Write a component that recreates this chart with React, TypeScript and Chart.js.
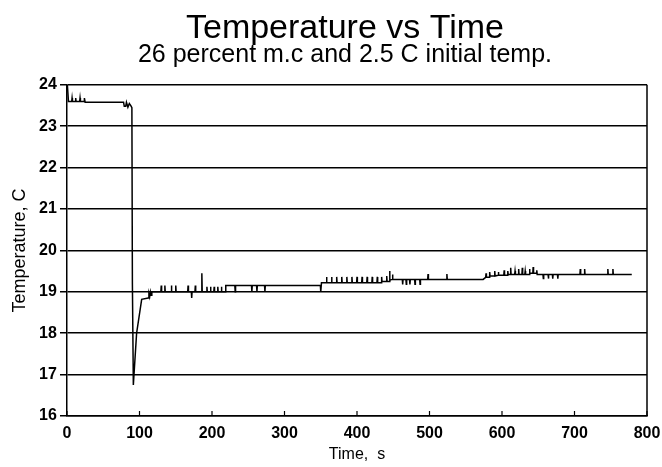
import React, { useEffect, useRef } from "react";
import { Chart, registerables } from "chart.js";

Chart.register(...registerables);

const titleText = "Temperature vs Time";
const subtitleText = "26 percent m.c and 2.5 C initial temp.";
const xTitle = "Time,  s";
const yTitle = "Temperature, C";

const xTicks = [0, 100, 200, 300, 400, 500, 600, 700, 800];
const yTicks = [16, 17, 18, 19, 20, 21, 22, 23, 24];

// time (s)
const times = [
  0.5, 2, 6.5, 7, 7.5, 11.5, 12, 12.5, 17.5, 18, 18.5, 23.5, 24, 25, 78, 79, 81, 82, 84, 86, 88,
  89.5, 90.2, 91.5, 96, 103, 112, 113, 114, 115, 116, 117,
  129.5, 130, 130.5, 134.5, 135, 135.5, 143.5, 144, 144.5, 149.5, 150, 150.5, 166.5, 167, 167.5,
  171.5, 172, 172.5, 176.5, 177, 177.5, 185.5, 186, 186.5,
  192.5, 193, 193.5, 197.5, 198, 198.5, 202.5, 203, 203.5, 207.5, 208, 208.5, 212.5, 213, 213.5,
  218, 219, 231.5, 232, 232.5, 254.5, 255, 255.5, 261.5, 262, 262.5, 272.5, 273, 273.5,
  349.5, 350, 351,
  357.5, 358, 358.5, 364.5, 365, 365.5, 371.5, 372, 372.5, 378.5, 379, 379.5, 385.5, 386, 386.5,
  392.5, 393, 393.5, 399.5, 400, 400.5, 406.5, 407, 407.5, 413.5, 414, 414.5, 420.5, 421, 421.5,
  427.5, 428, 428.5, 433.5, 434, 434.5,
  440.5, 441, 441.5, 444.5, 445, 445.5, 448.5, 449, 449.5,
  462.5, 463, 463.5, 467.5, 468, 468.5, 472.5, 473, 473.5, 479.5, 480, 480.5, 486.5, 487, 487.5,
  497.5, 498, 498.5, 523.5, 524, 524.5,
  574, 577.5, 578, 578.5, 582.5, 583, 583.5, 589.5, 590, 590.5, 594.5, 595, 595.5,
  602.5, 603, 603.5, 607.5, 608, 608.5, 611.5, 612, 612.5, 617.5, 618, 618.5, 622.5, 623, 623.5,
  627.5, 628, 628.5, 631.5, 632, 632.5, 637.5, 638, 638.5, 642.5, 643, 643.5, 647.5, 648, 648.5,
  656.5, 657, 657.5, 663.5, 664, 664.5, 669.5, 670, 670.5, 676.5, 677, 677.5,
  707.5, 708, 708.5, 713.5, 714, 714.5, 745.5, 746, 746.5, 752.5, 753, 753.5, 779,
];

// temperature (C)
const temps = [
  24.0, 23.6, 23.6, 23.68, 23.6, 23.6, 23.68, 23.6, 23.6, 23.68, 23.6, 23.6, 23.68, 23.58, 23.58, 23.48, 23.48, 23.58, 23.46, 23.55, 23.5,
  23.45, 19.2, 16.75, 18.0, 18.82, 18.85, 18.95, 18.88, 19.0, 18.92, 19.0,
  19.0, 19.15, 19.0, 19.0, 19.15, 19.0, 19.0, 19.15, 19.0, 19.0, 19.15, 19.0, 19.0, 19.15, 19.0,
  19.0, 18.85, 19.0, 19.0, 19.15, 19.0, 19.0, 19.45, 19.0,
  19.0, 19.12, 19.0, 19.0, 19.12, 19.0, 19.0, 19.12, 19.0, 19.0, 19.12, 19.0, 19.0, 19.12, 19.0,
  19.0, 19.15, 19.15, 19.0, 19.15, 19.15, 19.0, 19.15, 19.15, 19.0, 19.15, 19.15, 19.0, 19.15,
  19.15, 19.0, 19.22,
  19.22, 19.36, 19.22, 19.22, 19.36, 19.22, 19.22, 19.36, 19.22, 19.22, 19.36, 19.22, 19.22, 19.36, 19.22,
  19.22, 19.36, 19.22, 19.22, 19.36, 19.22, 19.22, 19.36, 19.22, 19.22, 19.36, 19.22, 19.22, 19.36, 19.22,
  19.22, 19.36, 19.22, 19.22, 19.36, 19.25,
  19.25, 19.38, 19.25, 19.25, 19.5, 19.28, 19.3, 19.42, 19.3,
  19.3, 19.18, 19.3, 19.3, 19.18, 19.3, 19.3, 19.18, 19.3, 19.3, 19.18, 19.3, 19.3, 19.18, 19.3,
  19.3, 19.43, 19.3, 19.3, 19.43, 19.3,
  19.3, 19.35, 19.45, 19.35, 19.35, 19.48, 19.38, 19.38, 19.5, 19.38, 19.4, 19.48, 19.4,
  19.4, 19.52, 19.4, 19.4, 19.5, 19.42, 19.42, 19.58, 19.42, 19.42, 19.5, 19.42, 19.42, 19.55, 19.42,
  19.42, 19.58, 19.42, 19.42, 19.5, 19.42, 19.42, 19.55, 19.45, 19.45, 19.6, 19.45, 19.45, 19.52, 19.42,
  19.42, 19.32, 19.42, 19.42, 19.32, 19.42, 19.42, 19.32, 19.42, 19.42, 19.32, 19.42,
  19.42, 19.55, 19.42, 19.42, 19.55, 19.42, 19.42, 19.55, 19.42, 19.42, 19.55, 19.42, 19.42,
];

const FONT = "'Liberation Sans', Arial, sans-serif";

const framePlugin = {
  id: "frame",
  afterDraw(chart: any) {
    const { ctx, chartArea, scales } = chart;
    ctx.save();
    ctx.strokeStyle = "#000";
    ctx.lineWidth = 1.5;
    ctx.beginPath();
    ctx.moveTo(chartArea.right, chartArea.top);
    ctx.lineTo(chartArea.right, chartArea.bottom);
    ctx.stroke();
    ctx.lineWidth = 1.2;
    for (const v of xTicks) {
      const px = scales.x.getPixelForValue(v);
      ctx.beginPath();
      ctx.moveTo(px, chartArea.bottom);
      ctx.lineTo(px, chartArea.bottom - 5);
      ctx.stroke();
    }
    ctx.restore();
  },
};

export default function App() {
  const ref = useRef<HTMLCanvasElement | null>(null);
  useEffect(() => {
    if (!ref.current) return;
    Chart.defaults.color = "#000";
    const chart = new Chart(ref.current, {
      type: "line",
      data: {
        datasets: [
          {
            data: times.map((t, i) => ({ x: t, y: temps[i] })),
            borderColor: "#000",
            borderWidth: 1.5,
            pointRadius: 0,
            tension: 0,
            fill: false,
          },
        ],
      },
      options: {
        responsive: false,
        animation: false,
        layout: { padding: { left: 43, right: 15, top: 0, bottom: 0 } },
        plugins: {
          legend: { display: false },
          tooltip: { enabled: false },
          title: {
            display: true,
            text: titleText,
            color: "#000",
            font: { family: FONT, size: 34, weight: "normal", lineHeight: 1.15 },
            padding: { top: 9, bottom: 0 },
          },
          subtitle: {
            display: true,
            text: subtitleText,
            color: "#000",
            font: { family: FONT, size: 25, weight: "normal", lineHeight: 0.55 },
            padding: { top: 0, bottom: 23 },
          },
        },
        scales: {
          x: {
            type: "linear",
            min: 0,
            max: 800,
            afterFit: (s: any) => {
              s.height = 51;
              s.paddingLeft = 0;
              s.paddingRight = 0;
            },
            afterBuildTicks: (s: any) => {
              s.ticks = xTicks.map((v) => ({ value: v }));
            },
            ticks: {
              color: "#000",
              padding: 8,
              maxRotation: 0,
              font: { family: FONT, size: 16, weight: "bold" },
            },
            grid: { display: false, drawTicks: false },
            border: { display: true, color: "#000", width: 1.5 },
            title: {
              display: true,
              text: xTitle,
              color: "#000",
              font: { family: FONT, size: 16, weight: "normal" },
              padding: { top: 0, bottom: 3 },
            },
          },
          y: {
            min: 16,
            max: 24,
            afterFit: (s: any) => {
              s.width = 24;
            },
            afterBuildTicks: (s: any) => {
              s.ticks = yTicks.map((v) => ({ value: v }));
            },
            ticks: {
              color: "#000",
              mirror: true,
              padding: -28,
              font: { family: FONT, size: 16, weight: "bold" },
            },
            grid: {
              color: "#000",
              lineWidth: 1.5,
              drawTicks: true,
              tickLength: 7,
            },
            border: { display: true, color: "#000", width: 1.5 },
            title: {
              display: true,
              text: yTitle,
              color: "#000",
              font: { family: FONT, size: 18, weight: "normal" },
              padding: { top: -34, bottom: 0 },
            },
          },
        },
      },
      plugins: [framePlugin],
    });
    return () => chart.destroy();
  }, []);
  return (
    <canvas
      ref={ref}
      width={662}
      height={467}
      style={{ position: "absolute", left: 0, top: 0, width: 662, height: 467 }}
    />
  );
}
